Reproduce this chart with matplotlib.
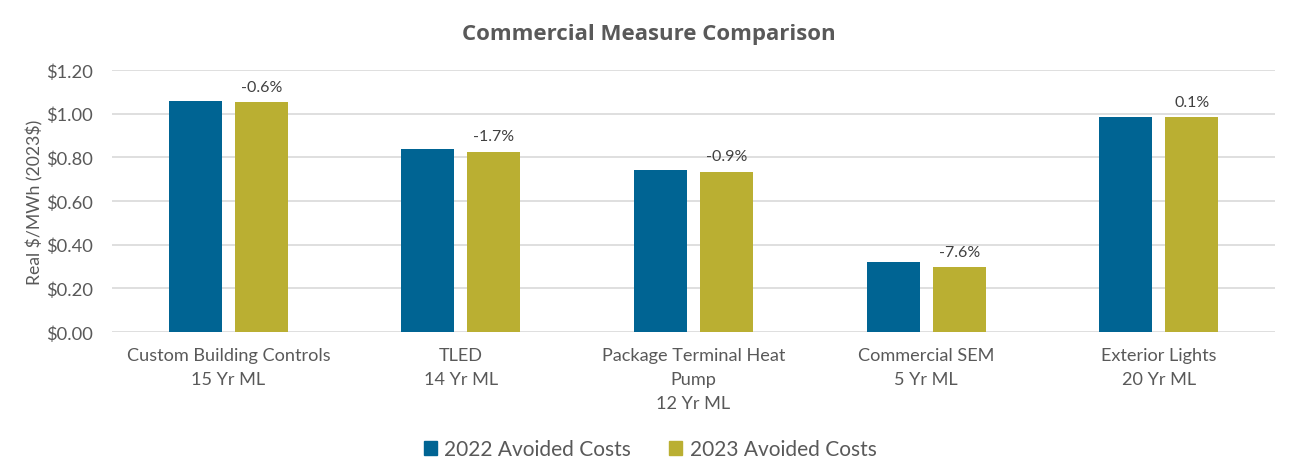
import numpy as np
import matplotlib
matplotlib.use("Agg")
import matplotlib.pyplot as plt
from matplotlib.patches import Patch

plt.rcParams['font.family'] = ['Lato', 'DejaVu Sans']

# data
categories = [
    "Custom Building Controls\n15 Yr ML",
    "TLED\n14 Yr ML",
    "Package Terminal Heat\nPump\n12 Yr ML",
    "Commercial SEM\n5 Yr ML",
    "Exterior Lights\n20 Yr ML",
]
costs_2022 = [1.058, 0.840, 0.742, 0.321, 0.983]
costs_2023 = [1.052, 0.826, 0.735, 0.297, 0.984]
pct_change = ["-0.6%", "-1.7%", "-0.9%", "-7.6%", "0.1%"]
yticks = [0.0, 0.2, 0.4, 0.6, 0.8, 1.0, 1.2]

BLUE = "#006493"
GOLD = "#BAAF32"
TEXT = "#595959"
GRID = "#D9D9D9"

fig = plt.figure(figsize=(12.98, 4.77), dpi=100)
ax = fig.add_axes([0.0863, 0.3019, 0.896, 0.5493])

x = np.arange(len(categories))
w = 0.228
off = 0.142

ax.bar(x - off, costs_2022, width=w, color=BLUE, zorder=3)
bars23 = ax.bar(x + off, costs_2023, width=w, color=GOLD, zorder=3)

# percent change labels over the 2023 bars
for rect, lab in zip(bars23, pct_change):
    ax.annotate(lab, (rect.get_x() + rect.get_width() / 2, rect.get_height()),
                xytext=(0, 6), textcoords="offset points",
                ha="center", va="bottom", fontsize=11.5, color="#404040")

ax.set_xlim(-0.5, len(categories) - 0.5)
ax.set_ylim(0, 1.2)
ax.set_yticks(yticks)
ax.set_yticklabels([f"${v:.2f}" for v in yticks])
ax.set_xticks(x)
ax.set_xticklabels(categories, linespacing=1.6)

ax.grid(axis="y", color=GRID, linewidth=1.2, zorder=0)
for s in ["top", "right", "left", "bottom"]:
    ax.spines[s].set_visible(False)
ax.tick_params(axis="both", length=0, colors=TEXT)
ax.tick_params(axis="y", labelsize=13.2, pad=13.5)
ax.tick_params(axis="x", labelsize=13.1, pad=11)

ax.set_ylabel("Real \\$/MWh (2023\\$)", fontsize=12.7, color=TEXT)
ax.yaxis.set_label_coords(-0.059, 0.5)

fig.text(0.5, 0.927, "Commercial Measure Comparison", ha="center", va="center",
         fontsize=16, fontweight="bold", color=TEXT, family="Open Sans")

handles = [Patch(color=BLUE, label="2022 Avoided Costs"),
           Patch(color=GOLD, label="2023 Avoided Costs")]
leg = fig.legend(handles=handles, loc="center", bbox_to_anchor=(0.5008, 0.0566),
                 ncol=2, frameon=False, fontsize=15, handlelength=0.65,
                 handleheight=0.65, handletextpad=0.35, columnspacing=1.8)
for t in leg.get_texts():
    t.set_color(TEXT)

fig.savefig("out.png", dpi=100)
